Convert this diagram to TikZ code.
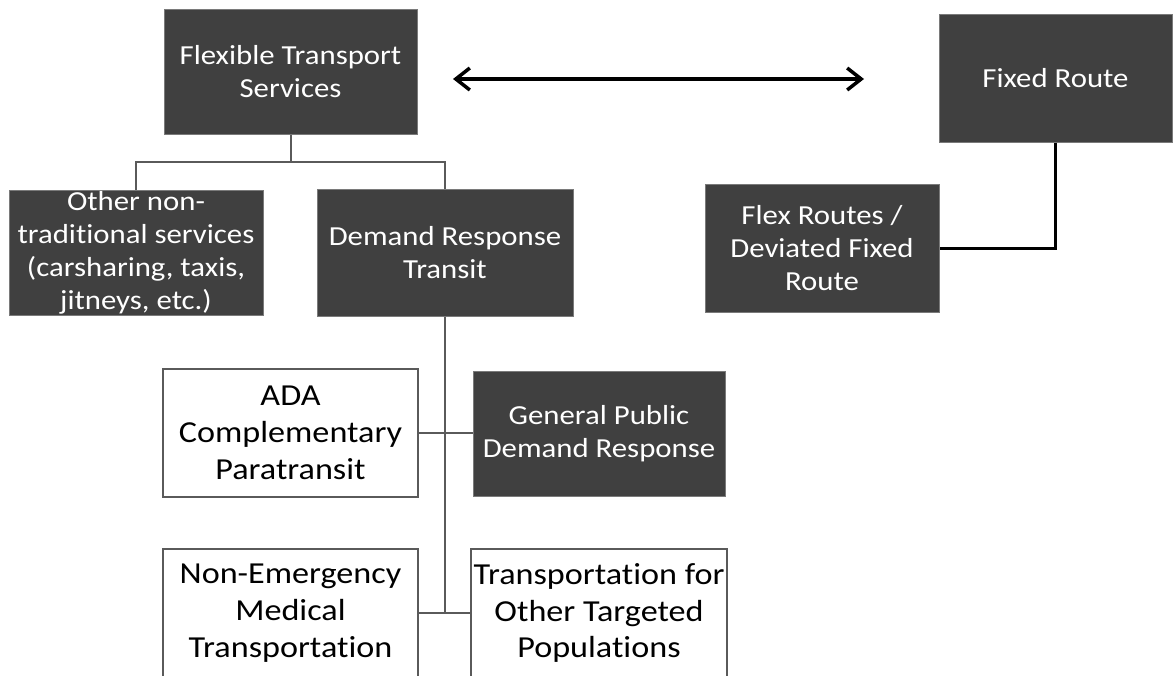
\documentclass[tikz,border=0pt]{standalone}
\usepackage{fontspec}
\setmainfont{Carlito}[FakeStretch=1.12, Ligatures=NoCommon]
\usetikzlibrary{arrows.meta}
\definecolor{boxfill}{HTML}{404040}
\definecolor{boxedge}{HTML}{7A7A7A}
\definecolor{lineedge}{HTML}{5A5A5A}
\tikzset{
  darkbox/.style={draw=boxedge, line width=1pt, fill=boxfill, text=white,
    inner sep=0pt, align=center, font=\fontsize{27.5}{33}\selectfont},
  lightbox/.style={draw=lineedge, line width=1.5pt, fill=white, text=black,
    inner sep=0pt, align=center, font=\fontsize{30.5}{36.7}\selectfont},
  boxtext/.style={text=white, inner sep=0pt, align=center,
    font=\fontsize{27.5}{33}\selectfont},
  treeline/.style={draw=lineedge, line width=2pt},
  routeline/.style={draw=black, line width=3pt},
}
\begin{document}
\begin{tikzpicture}[x=1pt, y=-1pt]
      \clip (0,0) rectangle (1173,675);
      \fill[white] (0,0) rectangle (1173,675);
      \draw
        (290.5,71.5) node[darkbox, minimum width=253pt, minimum height=125pt] (fts){Flexible Transport\\Services}
        (1055.5,78) node[darkbox, minimum width=233pt, minimum height=128pt] (fixed){Fixed Route}
        (136,252.5) node[darkbox, minimum width=254pt, minimum height=125pt] (other){}
        (445,252.5) node[darkbox, minimum width=256pt, minimum height=127pt] (drt){Demand Response\\Transit}
        (822,248) node[darkbox, minimum width=234pt, minimum height=128pt] (flex){Flex Routes /\\Deviated Fixed\\Route}
        (290.5,433) node[lightbox, minimum width=255pt, minimum height=128pt] (ada){ADA\\Complementary\\Paratransit}
        (599,433.5) node[darkbox, minimum width=252pt, minimum height=125pt] (gp){General Public\\Demand Response}
        (290.5,613) node[lightbox, minimum width=255pt, minimum height=128pt] (nemt){Non-Emergency\\Medical\\Transportation}
        (599,613) node[lightbox, minimum width=256pt, minimum height=128pt] (totp){Transportation for\\Other Targeted\\Populations};
      \node[boxtext] (othertext) at (other) {Other non-\\traditional services\\(carsharing, taxis,\\jitneys, etc.)};
      \coordinate (split) at (290.5,162);
      \coordinate (arrowL) at (453,79);
      \coordinate (arrowR) at (864,79);
      \begin{scope}[treeline]
        \draw (fts.south) to (split);
        \draw (other.north) -- (other.north |- split) -- (drt.north |- split) -- (drt.north);
        \draw (drt.south) -- (drt.south |- nemt.east);
        \draw (ada.east) -- (ada.east -| gp.west);
        \draw (nemt.east) -- (nemt.east -| totp.west);
      \end{scope}
      \draw[routeline] (fixed.south) |- (flex.east);
      \draw[line width=3.5pt, {Straight Barb[length=14pt, width=22pt]}-{Straight Barb[length=14pt, width=22pt]}] (arrowL) -- (arrowR);
    \end{tikzpicture}
\end{document}
